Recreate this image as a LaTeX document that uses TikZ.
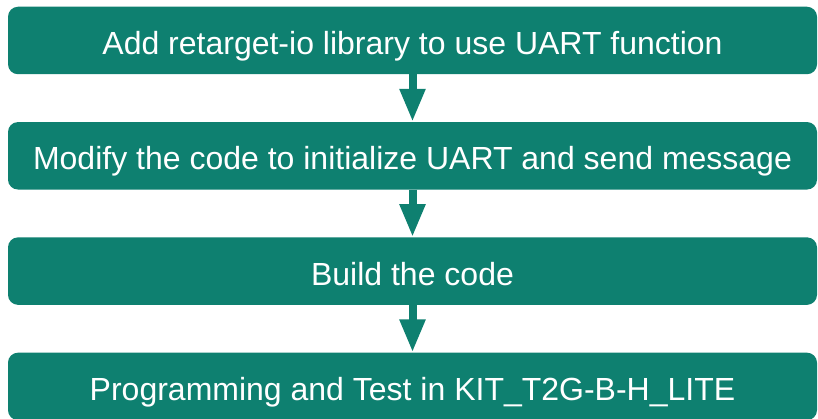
\documentclass[tikz,border=0pt]{standalone}
\usepackage{fontspec}
\setmainfont{Liberation Sans}
\usetikzlibrary{arrows.meta,positioning}
\definecolor{teal1}{HTML}{0E8070}

\begin{document}
\begin{tikzpicture}[x=1pt, y=1pt,
    flowbox/.style={rectangle, rounded corners=10pt, fill=teal1, text=white,
        minimum width=809pt, minimum height=67.5pt, inner sep=0pt,
        text height=30pt, text depth=2pt,
        font=\fontsize{32}{38}\selectfont},
    flowarrow/.style={teal1, line width=8pt, -{Triangle[width=24pt, length=33pt]}}]
    \useasboundingbox (0,0) rectangle (818,418);
    \clip (0,0) rectangle (818,418);
    \def\d{115.3}
    \def\top{377.5}
    \node(s1) [flowbox] at (412.5, \top - \d * 0) {Add retarget-io library to use UART function};
    \node(s2) [flowbox] at (412.5, \top - \d * 1) {Modify the code to initialize UART and send message};
    \node(s3) [flowbox] at (412.5, \top - \d * 2) {Build the code};
    \node(s4) [flowbox] at (412.5, \top - \d * 3) {Programming and Test in KIT\_T2G-B-H\_LITE};
    \draw[flowarrow] (s1.south) -- (s2.north);
    \draw[flowarrow] (s2.south) -- (s3.north);
    \draw[flowarrow] (s3.south) -- (s4.north);
\end{tikzpicture}
\end{document}
